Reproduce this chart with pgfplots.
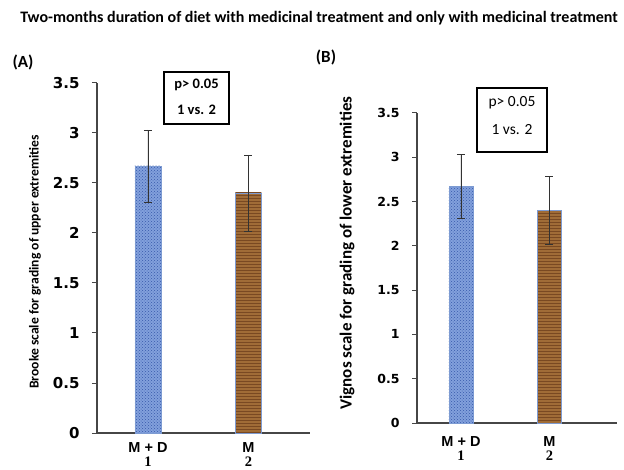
\documentclass[border=0pt]{standalone}
\usepackage{pgfplots}
\pgfplotsset{compat=1.18}
\usetikzlibrary{patterns}
\usepackage{fontspec}
\setmainfont{Carlito}
\newfontfamily\arial{Liberation Sans}
\newfontfamily\verd{DejaVu Sans}
\newfontfamily\tnr{Liberation Serif}
\definecolor{bluebar}{RGB}{130,160,220}
\definecolor{bluedot}{RGB}{55,90,170}
\definecolor{brownbar}{RGB}{160,108,55}
\definecolor{brownline}{RGB}{105,58,25}
\definecolor{baredge}{RGB}{125,155,210}
\definecolor{axgray}{RGB}{70,70,70}
\pgfplotsset{
  panel/.style={
    scale only axis,
    anchor=south west,
    axis lines=left,
    axis line style={-, axgray, line width=1.2pt},
    ymin=0, ymax=3.5,
    ytick={0,0.5,...,3.5},
    tick align=outside,
    major tick length=5pt,
    y tick style={axgray, line width=1pt},
    x tick style={draw=none},
    xtick={1,2},
    xticklabel style={align=center, inner sep=0pt, font=\fontsize{14.5}{14}\selectfont\bfseries},
    xticklabels={{\arial M + D\\\tnr 1},{\arial M\\\tnr 2}},
    /pgf/number format/assume math mode=true,
    ybar, bar shift=0pt,
    clip=false,
    error bars/y dir=both,
    error bars/y explicit,
    error bars/error bar style={black!80, line width=0.8pt},
    error bars/error mark options={rotate=90, mark size=4pt, black!80, line width=0.8pt},
  },
  bluestyle/.style={fill=bluebar, draw=baredge, line width=0.6pt,
    postaction={pattern=crosshatch dots, pattern color=bluedot}},
  brownstyle/.style={fill=brownbar, draw=baredge, line width=0.6pt,
    postaction={pattern=horizontal lines, pattern color=brownline!70!brownbar}},
}
\begin{document}
\begin{tikzpicture}[x=1pt,y=1pt]
\path[use as bounding box] (0,0) rectangle (624,469);
% title
\node[font=\fontsize{16}{18}\selectfont\bfseries] at (319,451) {Two-months duration of diet with medicinal treatment and only with medicinal treatment};
% panel labels
\node[font=\fontsize{17}{19}\selectfont\bfseries] at (23,407) {(A)};
\node[font=\fontsize{17}{19}\selectfont\bfseries] at (326,412) {(B)};
% Panel A
\begin{axis}[panel, at={(97pt,36pt)}, width=213pt, height=350pt,
  xmin=0.493, xmax=2.612, bar width=26pt,
  yticklabel style={font=\fontsize{15}{17}\selectfont\verd\bfseries, xshift=-9pt},
  xticklabel style={yshift=-4pt}]
\addplot[bluestyle] coordinates {(1,2.67) +- (0,0.36)};
\addplot[brownstyle] coordinates {(2,2.40) +- (0,0.38)};
\end{axis}
\draw[line width=1.6pt] (164,345) rectangle (229,397);
\node[font=\fontsize{14.5}{16}\selectfont\bfseries] at (196.5,384) {p> 0.05};
\node[font=\fontsize{14.5}{16}\selectfont\bfseries] at (196.5,359) {1 vs. 2};
\node[rotate=90, font=\fontsize{13.6}{15}\selectfont\bfseries] at (35,207) {Brooke scale for grading of upper extremities};
% Panel B
\begin{axis}[panel, at={(417pt,46pt)}, width=200pt, height=310pt,
  xmin=0.503, xmax=2.763, bar width=24pt,
  yticklabel style={font=\fontsize{12.5}{15}\selectfont\verd\bfseries, xshift=-9pt},
  xticklabel style={yshift=-8pt}]
\addplot[bluestyle] coordinates {(1,2.67) +- (0,0.36)};
\addplot[brownstyle] coordinates {(2,2.40) +- (0,0.38)};
\end{axis}
\draw[line width=1.6pt] (477,317) rectangle (547,381);
\node[font=\fontsize{15.5}{17}\selectfont] at (512,366) {p> 0.05};
\node[font=\fontsize{15.5}{17}\selectfont] at (512,339) {1 vs. 2};
\node[rotate=90, font=\fontsize{17}{19}\selectfont\bfseries] at (347,216) {Vignos scale for grading of lower extremities};
\end{tikzpicture}
\end{document}
